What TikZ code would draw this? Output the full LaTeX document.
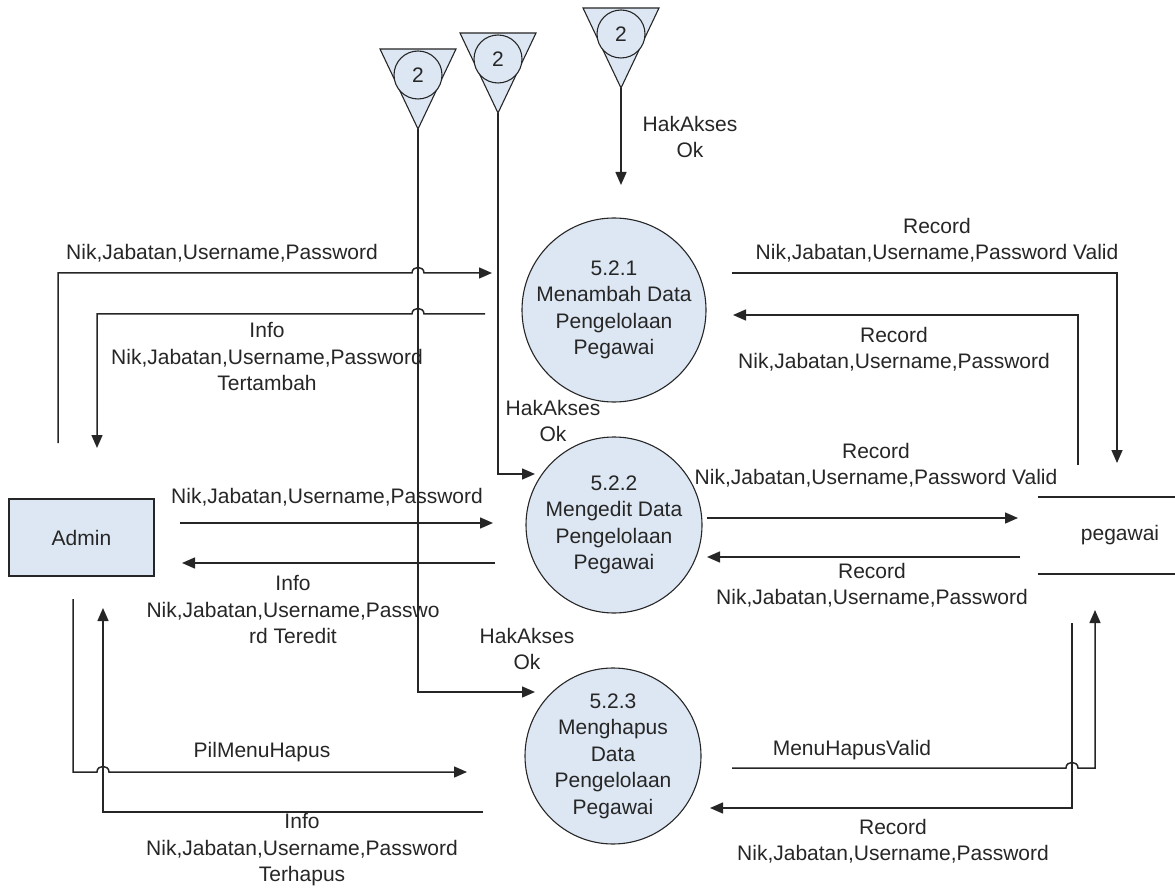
\documentclass[tikz,border=0pt]{standalone}
\usepackage{fontspec}
\usetikzlibrary{arrows.meta}
\newfontfamily\dfdfont{Liberation Sans}
\newcommand\dfdtext{\dfdfont\fontsize{21pt}{26.5pt}\selectfont}
\definecolor{procblue}{RGB}{221,231,243}
\definecolor{inkgray}{RGB}{38,38,38}

\begin{document}
\begin{tikzpicture}[x=1pt,y=-1pt]


 \tikzset{
    proc/.style={circle, draw=inkgray, line width=1.1pt, fill=procblue,
      minimum size=176pt, inner sep=0pt, align=center, font=\dfdtext, text=inkgray},
    ent/.style={rectangle, draw=inkgray, line width=1.3pt, fill=procblue,
      minimum width=145pt, minimum height=77pt, font=\dfdtext, text=inkgray},
    conn/.style={circle, draw=inkgray, line width=1.1pt, fill=procblue,
      minimum size=48pt, inner sep=0pt, font=\dfdtext, text=inkgray},
    offp/.style={draw=inkgray, line width=1.1pt, fill=procblue},
    lbl/.style={align=center, inner sep=0pt, font=\dfdtext, text=inkgray},
    flow/.style={draw=inkgray, line width=1.5pt, -{Triangle[length=13pt,width=11pt]}},
    wire/.style={draw=inkgray, line width=1.5pt},
    hopE/.style={bend left=90, looseness=1.6},
    hopW/.style={bend right=90, looseness=1.6}
  }

\useasboundingbox (0,0) rectangle (1175,890);

% processes, entity, store
\node[proc] (p1) at (614,310) {5.2.1\\Menambah Data\\Pengelolaan\\Pegawai};
\node[proc] (p2) at (614,525) {5.2.2\\Mengedit Data\\Pengelolaan\\Pegawai};
\node[proc] (p3) at (613,756) {5.2.3\\Menghapus\\Data\\Pengelolaan\\Pegawai};

\node[ent] (admin) at (81.5,537.5) {Admin};

\node[lbl, minimum width=164pt, minimum height=77pt] (peg) at (1120,535.5) {pegawai};
\draw[wire] (peg.north west) -- (peg.north east)
            (peg.south west) -- (peg.south east);

% off-page connectors
\foreach \n/\x/\y in {tA/418/49, tB/498/33, tC/621/8} {
    \draw[offp] (\x-38,\y) -- (\x+38,\y) -- (\x,\y+80) -- cycle;
    \node[conn] (\n-circ) at (\x,\y+26) {2};
    \coordinate (\n) at (\x,\y+80);
}

% admin side ends
\coordinate (aD) at (58,443);
\coordinate (aE) at (97,448);
\coordinate (aF) at (180,523);
\coordinate (aG) at (182,563);
\coordinate (aH) at (73,599);
\coordinate (aI) at (103,608);

% process side ends
\coordinate (p1D) at (492,273);
\coordinate (p1E) at (485,314);
\coordinate (p2F) at (493,523);
\coordinate (p2G) at (495,563);
\coordinate (p3H) at (467,772);
\coordinate (p3I) at (483,812);
\coordinate (p1J) at (732,273);
\coordinate (p1K) at (733,315);
\coordinate (p2L) at (707,518);
\coordinate (p2M) at (707,557);
\coordinate (p3N) at (732,768);
\coordinate (p3O) at (710,808);
\coordinate (p1C) at (621,185);
\coordinate (p2B) at (535,474);
\coordinate (p3A) at (535,692);

% store side ends
\coordinate (sJ) at (1117,463);
\coordinate (sK) at (1078,465);
\coordinate (sL) at (1018,518);
\coordinate (sM) at (1020,557);
\coordinate (sN) at (1095,610);
\coordinate (sO) at (1072,623);

% flows
\draw[flow] (tC) -- (p1C);
\draw[flow] (tB) |- (p2B);
\draw[flow] (tA) |- (p3A);

\draw[flow] (aD) |- ([xshift=-6pt]tA |- p1D) to[hopE] ([xshift=6pt]tA |- p1D) -- (p1D);
\draw[flow] (p1E) -- ([xshift=6pt]tA |- p1E) to[hopW] ([xshift=-6pt]tA |- p1E) -| (aE);
\draw[flow] (aF) -- (p2F);
\draw[flow] (p2G) -- (aG);
\draw[flow] (aH) |- ([xshift=-6pt]aI |- p3H) to[hopE] ([xshift=6pt]aI |- p3H) -- (p3H);
\draw[flow] (p3I) -| (aI);

\draw[flow] (p1J) -| (sJ);
\draw[flow] (sK) |- (p1K);
\draw[flow] (p2L) -- (sL);
\draw[flow] (sM) -- (p2M);
\draw[flow] (p3N) -- ([xshift=-6pt]sO |- p3N) to[hopE] ([xshift=6pt]sO |- p3N) -| (sN);
\draw[flow] (sO) |- (p3O);

% labels
\node[lbl] (lC) at (690,137) {HakAkses\\Ok};
\node[lbl] (lB) at (553,421) {HakAkses\\Ok};
\node[lbl] (lA) at (527,649) {HakAkses\\Ok};

\node[lbl] (lD) at (222,253) {Nik,Jabatan,Username,Password};
\node[lbl] (lE) at (267,357) {Info\\Nik,Jabatan,Username,Password\\Tertambah};
\node[lbl] (lF) at (327,497) {Nik,Jabatan,Username,Password};
\node[lbl] (lG) at (293,610) {Info\\Nik,Jabatan,Username,Passwo\\rd Teredit};
\node[lbl] (lH) at (262,752) {PilMenuHapus};
\node[lbl] (lI) at (302,850) {Info\\Nik,Jabatan,Username,Password\\Terhapus};

\node[lbl] (lJ) at (937,240) {Record\\Nik,Jabatan,Username,Password Valid};
\node[lbl] (lK) at (894,349) {Record\\Nik,Jabatan,Username,Password};
\node[lbl] (lL) at (876,465) {Record\\Nik,Jabatan,Username,Password Valid};
\node[lbl] (lM) at (872,585) {Record\\Nik,Jabatan,Username,Password};
\node[lbl] (lN) at (852,750) {MenuHapusValid};
\node[lbl] (lO) at (893,841) {Record\\Nik,Jabatan,Username,Password};
\end{tikzpicture}
\end{document}
